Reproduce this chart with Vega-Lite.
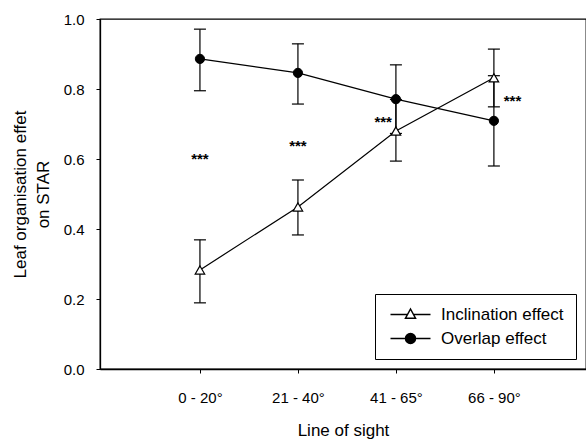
{
  "$schema": "https://vega.github.io/schema/vega-lite/v6.json",
  "width": 486,
  "height": 350,
  "autosize": {"type": "none"},
  "padding": {"left": 100, "top": 19, "right": 0, "bottom": 71},
  "background": "white",
  "config": {
    "font": "Liberation Sans",
    "view": {"stroke": "black", "strokeWidth": 1.3},
    "axis": {
      "grid": false,
      "domainColor": "black",
      "domainWidth": 1.3,
      "tickColor": "black",
      "tickSize": 4,
      "labelColor": "black",
      "titleColor": "black",
      "labelFont": "Liberation Sans",
      "titleFont": "Liberation Sans",
      "labelFontSize": 15,
      "titleFontSize": 17,
      "titleFontWeight": "normal"
    },
    "legend": {
      "orient": "bottom-right",
      "offset": 10,
      "strokeColor": "black",
      "padding": 12,
      "labelFont": "Liberation Sans",
      "labelFontSize": 17,
      "labelColor": "black",
      "rowPadding": 6,
      "labelOffset": 22,
      "symbolOffset": 15
    }
  },
  "datasets": {
    "effects": [
      {"sight": "0 - 20°", "pos": 1, "series": "Inclination effect", "value": 0.283, "lo": 0.189, "hi": 0.369},
      {"sight": "21 - 40°", "pos": 2, "series": "Inclination effect", "value": 0.463, "lo": 0.383, "hi": 0.54},
      {"sight": "41 - 65°", "pos": 3, "series": "Inclination effect", "value": 0.68, "lo": 0.594, "hi": 0.77},
      {"sight": "66 - 90°", "pos": 4, "series": "Inclination effect", "value": 0.832, "lo": 0.749, "hi": 0.914},
      {"sight": "0 - 20°", "pos": 1, "series": "Overlap effect", "value": 0.886, "lo": 0.795, "hi": 0.971},
      {"sight": "21 - 40°", "pos": 2, "series": "Overlap effect", "value": 0.846, "lo": 0.757, "hi": 0.929},
      {"sight": "41 - 65°", "pos": 3, "series": "Overlap effect", "value": 0.771, "lo": 0.673, "hi": 0.869},
      {"sight": "66 - 90°", "pos": 4, "series": "Overlap effect", "value": 0.709, "lo": 0.58, "hi": 0.838}
    ],
    "stars": [
      {"pos": 1.0, "value": 0.609, "label": "***"},
      {"pos": 2.0, "value": 0.646, "label": "***"},
      {"pos": 2.87, "value": 0.713, "label": "***"},
      {"pos": 4.19, "value": 0.775, "label": "***"}
    ]
  },
  "encoding": {
    "x": {
      "field": "pos",
      "type": "quantitative",
      "scale": {"domain": [-0.02, 4.94], "nice": false, "zero": false},
      "axis": {
        "values": [1, 2, 3, 4],
        "labelExpr": "['', '0 - 20°', '21 - 40°', '41 - 65°', '66 - 90°'][datum.value]",
        "title": "Line of sight",
        "labelPadding": 17,
        "titlePadding": 17
      }
    },
    "y": {
      "field": "value",
      "type": "quantitative",
      "scale": {"domain": [0, 1], "nice": false},
      "axis": {
        "values": [0, 0.2, 0.4, 0.6, 0.8, 1.0],
        "format": ".1f",
        "title": ["Leaf organisation effet", "on STAR"],
        "titleLineHeight": 23,
        "labelPadding": 12,
        "titlePadding": 11
      }
    }
  },
  "layer": [
    {
      "data": {"name": "effects"},
      "mark": {"type": "line", "color": "black", "strokeWidth": 1.2},
      "encoding": {"detail": {"field": "series"}}
    },
    {
      "data": {"name": "effects"},
      "mark": {"type": "rule", "color": "black", "strokeWidth": 1.2, "opacity": 1},
      "encoding": {
        "y": {"field": "lo", "type": "quantitative"},
        "y2": {"field": "hi"}
      }
    },
    {
      "data": {"name": "effects"},
      "mark": {"type": "tick", "orient": "horizontal", "color": "black", "size": 12, "thickness": 1.2, "opacity": 1},
      "encoding": {
        "y": {"field": "lo", "type": "quantitative"}
      }
    },
    {
      "data": {"name": "effects"},
      "mark": {"type": "tick", "orient": "horizontal", "color": "black", "size": 12, "thickness": 1.2, "opacity": 1},
      "encoding": {
        "y": {"field": "hi", "type": "quantitative"}
      }
    },
    {
      "data": {"name": "effects"},
      "transform": [{"filter": "datum.series === 'Inclination effect'"}],
      "mark": {"type": "point", "shape": "triangle-up", "filled": true, "fill": "white", "stroke": "black", "strokeWidth": 1.2, "size": 90, "opacity": 1}
    },
    {
      "data": {"name": "effects"},
      "transform": [{"filter": "datum.series === 'Overlap effect'"}],
      "mark": {"type": "point", "shape": "circle", "filled": true, "fill": "black", "stroke": "black", "strokeWidth": 1, "size": 85, "opacity": 1}
    },
    {
      "data": {"name": "effects"},
      "mark": {"type": "point", "filled": true, "stroke": "black", "strokeWidth": 1.2, "size": 100, "opacity": 0},
      "encoding": {
        "shape": {
          "field": "series",
          "type": "nominal",
          "scale": {
            "domain": ["Inclination effect", "Overlap effect"],
            "range": [
              "M-4,0H-0.6M0.6,0H4M0,-1.1L1,0.75L-1,0.75Z",
              "M-4,0H4M1,0A1,1,0,1,1,-1,0A1,1,0,1,1,1,0Z"
            ]
          },
          "legend": {"title": null}
        },
        "color": {
          "field": "series",
          "type": "nominal",
          "scale": {"domain": ["Inclination effect", "Overlap effect"], "range": ["white", "black"]},
          "legend": {"title": null}
        }
      }
    },
    {
      "data": {"name": "stars"},
      "mark": {"type": "text", "fontSize": 15, "fontWeight": "bold", "align": "center", "baseline": "middle", "dy": 3, "color": "black"},
      "encoding": {"text": {"field": "label"}}
    }
  ]
}
